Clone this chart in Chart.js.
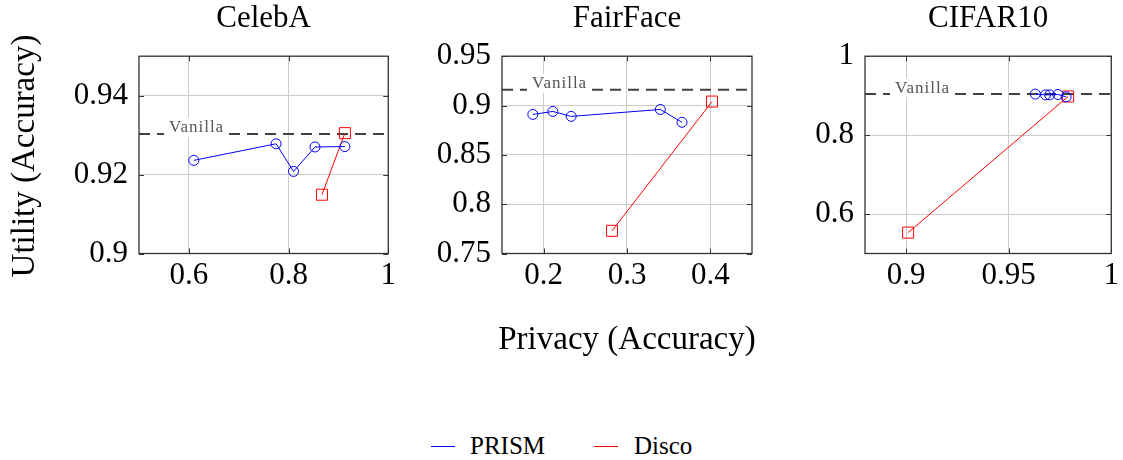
<!DOCTYPE html>
<html>
<head>
<meta charset="utf-8">
<script src="https://cdn.jsdelivr.net/npm/chart.js@4.4.1/dist/chart.umd.min.js"></script>
<style>
  body {
    margin: 0;
    width: 1123px;
    height: 460px;
    position: relative;
    overflow: hidden;
    background: #fff;
    font-family: 'Liberation Serif', serif;
    color: #000;
  }
  canvas { position: absolute; top: 0; }
  .axis-label {
    position: absolute;
    font-size: 33px;
    line-height: 40px;
    text-align: center;
    white-space: nowrap;
  }
  .legend-line { position: absolute; top: 446px; width: 24px; height: 1px; }
  .legend-text { position: absolute; top: 431px; font-size: 25px; line-height: 30px; }
</style>
</head>
<body>
<canvas id="celeba-chart" width="400" height="380" style="left:0px"></canvas>
<canvas id="fairface-chart" width="363" height="380" style="left:400px"></canvas>
<canvas id="cifar10-chart" width="360" height="380" style="left:763px"></canvas>

<div class="axis-label" style="left:-127px; top:136px; width:300px; transform:rotate(-90deg)">Utility (Accuracy)</div>
<div class="axis-label" style="left:427px; top:318px; width:400px">Privacy (Accuracy)</div>

<div class="legend-line" style="left:431px; background:#0000ff"></div>
<span class="legend-text" style="left:470px">PRISM</span>
<div class="legend-line" style="left:594px; background:#ff0000"></div>
<span class="legend-text" style="left:634px">Disco</span>

<script>
// privacy (x) / utility (y) per method and dataset
const CELEBA_PRISM_PRIVACY = [0.61, 0.775, 0.81, 0.853, 0.913];
const CELEBA_PRISM_UTILITY = [0.9236, 0.9278, 0.9208, 0.927, 0.9271];
const CELEBA_DISCO_PRIVACY = [0.867, 0.913];
const CELEBA_DISCO_UTILITY = [0.9149, 0.9305];
const CELEBA_VANILLA = 0.9303;
const CELEBA_X_TICKS = [0.6, 0.8, 1];
const CELEBA_Y_TICKS = [0.9, 0.92, 0.94];

const FAIRFACE_PRISM_PRIVACY = [0.187, 0.211, 0.233, 0.34, 0.366];
const FAIRFACE_PRISM_UTILITY = [0.891, 0.894, 0.889, 0.896, 0.883];
const FAIRFACE_DISCO_PRIVACY = [0.282, 0.402];
const FAIRFACE_DISCO_UTILITY = [0.773, 0.904];
const FAIRFACE_VANILLA = 0.916;
const FAIRFACE_X_TICKS = [0.2, 0.3, 0.4];
const FAIRFACE_Y_TICKS = [0.75, 0.8, 0.85, 0.9, 0.95];

const CIFAR10_PRISM_PRIVACY = [0.963, 0.968, 0.97, 0.974, 0.978];
const CIFAR10_PRISM_UTILITY = [0.904, 0.902, 0.902, 0.903, 0.897];
const CIFAR10_DISCO_PRIVACY = [0.901, 0.979];
const CIFAR10_DISCO_UTILITY = [0.553, 0.898];
const CIFAR10_VANILLA = 0.904;
const CIFAR10_X_TICKS = [0.9, 0.95, 1];
const CIFAR10_Y_TICKS = [0.6, 0.8, 1];

const PRISM_COLOR = '#0000ff';
const DISCO_COLOR = '#ff0000';
const VANILLA_COLOR = '#404040';
const GRID_COLOR = '#cccccc';
const FRAME_COLOR = '#333333';
const X_AXIS_HEIGHT = 126.5;

Chart.defaults.font.family = "'Liberation Serif', serif";
Chart.defaults.color = '#000';

// box around the plot area with small inward ticks, like pgfplots
const framePlugin = {
  id: 'frame',
  afterDatasetsDraw(chart) {
    const { ctx, chartArea, scales } = chart;
    const { left, right, top, bottom } = chartArea;
    const tickLength = 5;

    ctx.save();
    ctx.strokeStyle = FRAME_COLOR;
    ctx.lineWidth = 1;
    scales.x.ticks.forEach((tick) => {
      const x = Math.round(scales.x.getPixelForValue(tick.value)) + 0.5;
      ctx.beginPath();
      ctx.moveTo(x, bottom);
      ctx.lineTo(x, bottom - tickLength);
      ctx.moveTo(x, top);
      ctx.lineTo(x, top + tickLength);
      ctx.stroke();
    });
    scales.y.ticks.forEach((tick) => {
      const y = Math.round(scales.y.getPixelForValue(tick.value)) + 0.5;
      ctx.beginPath();
      ctx.moveTo(left, y);
      ctx.lineTo(left + tickLength, y);
      ctx.moveTo(right, y);
      ctx.lineTo(right - tickLength, y);
      ctx.stroke();
    });
    ctx.lineWidth = 1.3;
    ctx.strokeRect(left, top, right - left, bottom - top);
    ctx.restore();
  },
};

// "Vanilla" tag sitting on a white patch that breaks the dashed line
function createVanillaLabelPlugin(vanilla) {
  return {
    id: 'vanillaLabel',
    afterDatasetsDraw(chart) {
      const { ctx, chartArea, scales } = chart;
      const lineY = scales.y.getPixelForValue(vanilla);
      const textX = chartArea.left + 30;
      const textY = lineY - 6;

      ctx.save();
      ctx.font = "17px 'Liberation Serif'";
      ctx.letterSpacing = '1px';
      const width = ctx.measureText('Vanilla').width;
      ctx.fillStyle = '#fff';
      ctx.fillRect(textX - 5, lineY - 16, width + 9, 19);
      ctx.fillStyle = '#555';
      ctx.textBaseline = 'middle';
      ctx.fillText('Vanilla', textX, textY);
      ctx.restore();
    },
  };
}

function toPoints(xs, ys) {
  return xs.map((x, i) => ({ x: x, y: ys[i] }));
}

function createChartData(panel) {
  return {
    datasets: [
      {
        label: 'PRISM',
        data: toPoints(panel.prismX, panel.prismY),
        showLine: true,
        borderColor: PRISM_COLOR,
        backgroundColor: 'transparent',
        borderWidth: 1,
        pointStyle: 'circle',
        pointRadius: 5,
        pointBorderWidth: 1,
      },
      {
        label: 'Disco',
        data: toPoints(panel.discoX, panel.discoY),
        showLine: true,
        borderColor: DISCO_COLOR,
        backgroundColor: 'transparent',
        borderWidth: 1,
        pointStyle: 'rect',
        pointRadius: 7.8,
        pointBorderWidth: 1,
      },
      {
        label: 'Vanilla',
        data: [
          { x: panel.xMin, y: panel.vanilla },
          { x: panel.xMax, y: panel.vanilla },
        ],
        showLine: true,
        borderColor: VANILLA_COLOR,
        borderWidth: 2,
        borderDash: [11, 7],
        pointRadius: 0,
      },
    ],
  };
}

function createChartScales(panel, layout) {
  return {
    x: {
      type: 'linear',
      min: panel.xMin,
      max: panel.xMax,
      afterBuildTicks: (scale) => {
        scale.ticks = panel.xTicks.map((value) => ({ value: value }));
      },
      afterFit: (scale) => {
        scale.height = X_AXIS_HEIGHT;
      },
      grid: { color: GRID_COLOR, drawTicks: false },
      border: { display: false },
      ticks: {
        padding: 4,
        font: { size: 31 },
        maxRotation: 0,
        autoSkip: false,
        callback: (value) => String(value),
      },
    },
    y: {
      type: 'linear',
      min: panel.yMin,
      max: panel.yMax,
      afterBuildTicks: (scale) => {
        scale.ticks = panel.yTicks.map((value) => ({ value: value }));
      },
      afterFit: (scale) => {
        scale.width = layout.yAxisWidth;
      },
      grid: { color: GRID_COLOR, drawTicks: false },
      border: { display: false },
      ticks: {
        padding: 11,
        font: { size: 31 },
        autoSkip: false,
        callback: (value) => String(value),
      },
    },
  };
}

function createChartOptions(panel, layout) {
  return {
    responsive: false,
    animation: false,
    events: [],
    layout: { padding: { right: layout.rightPadding } },
    scales: createChartScales(panel, layout),
    plugins: {
      legend: { display: false },
      tooltip: { enabled: false },
      title: {
        display: true,
        text: panel.title,
        fullSize: false,
        color: '#000',
        font: { size: 31, weight: 'normal' },
        padding: { top: 0, bottom: 19 },
      },
    },
  };
}

function createPanelChart(canvasId, panel, layout) {
  const ctx = document.getElementById(canvasId).getContext('2d');
  return new Chart(ctx, {
    type: 'scatter',
    data: createChartData(panel),
    options: createChartOptions(panel, layout),
    plugins: [framePlugin, createVanillaLabelPlugin(panel.vanilla)],
  });
}

createPanelChart(
  'celeba-chart',
  {
    title: 'CelebA',
    prismX: CELEBA_PRISM_PRIVACY,
    prismY: CELEBA_PRISM_UTILITY,
    discoX: CELEBA_DISCO_PRIVACY,
    discoY: CELEBA_DISCO_UTILITY,
    vanilla: CELEBA_VANILLA,
    xMin: 0.5,
    xMax: 1,
    yMin: 0.9,
    yMax: 0.95,
    xTicks: CELEBA_X_TICKS,
    yTicks: CELEBA_Y_TICKS,
  },
  { yAxisWidth: 139, rightPadding: 11 }
);

createPanelChart(
  'fairface-chart',
  {
    title: 'FairFace',
    prismX: FAIRFACE_PRISM_PRIVACY,
    prismY: FAIRFACE_PRISM_UTILITY,
    discoX: FAIRFACE_DISCO_PRIVACY,
    discoY: FAIRFACE_DISCO_UTILITY,
    vanilla: FAIRFACE_VANILLA,
    xMin: 0.15,
    xMax: 0.45,
    yMin: 0.75,
    yMax: 0.95,
    xTicks: FAIRFACE_X_TICKS,
    yTicks: FAIRFACE_Y_TICKS,
  },
  { yAxisWidth: 102, rightPadding: 11 }
);

createPanelChart(
  'cifar10-chart',
  {
    title: 'CIFAR10',
    prismX: CIFAR10_PRISM_PRIVACY,
    prismY: CIFAR10_PRISM_UTILITY,
    discoX: CIFAR10_DISCO_PRIVACY,
    discoY: CIFAR10_DISCO_UTILITY,
    vanilla: CIFAR10_VANILLA,
    xMin: 0.88,
    xMax: 1,
    yMin: 0.5,
    yMax: 1,
    xTicks: CIFAR10_X_TICKS,
    yTicks: CIFAR10_Y_TICKS,
  },
  { yAxisWidth: 102, rightPadding: 8 }
);
</script>
</body>
</html>
